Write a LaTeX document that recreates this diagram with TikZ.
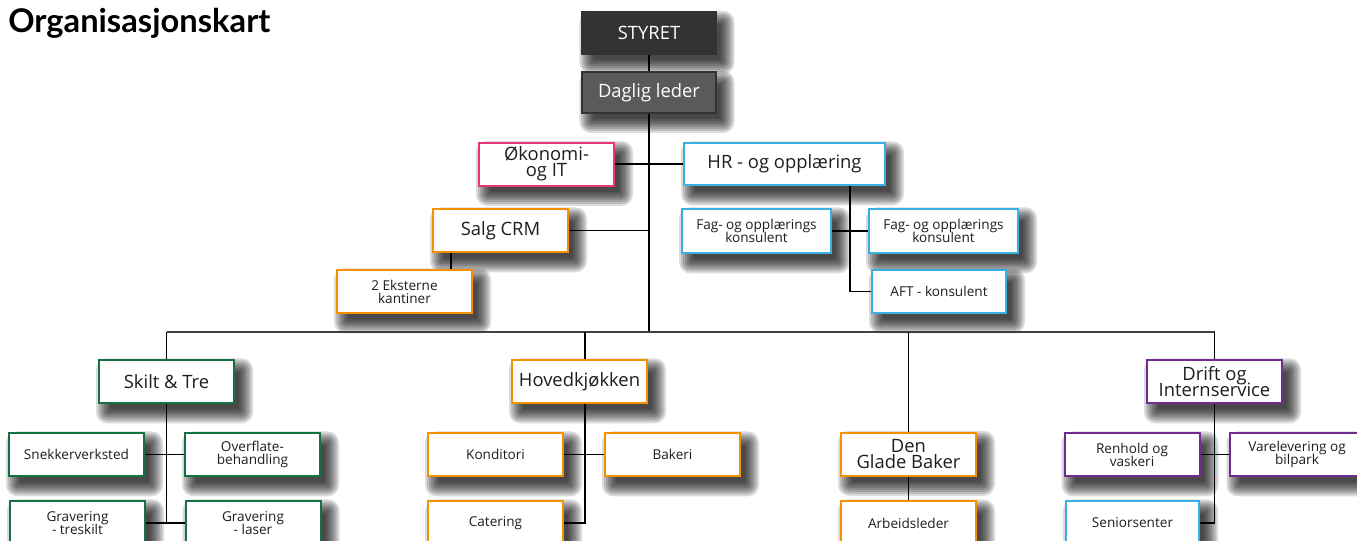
\documentclass[tikz,border=0pt]{standalone}
\usepackage{fontspec}
\setmainfont{Open Sans}
\newfontfamily\titlefont{Lato}
\usetikzlibrary{backgrounds}
\definecolor{cpink}{HTML}{E2357A}
\definecolor{ccyan}{HTML}{3BAEE3}
\definecolor{corange}{HTML}{F39200}
\definecolor{cgreen}{HTML}{17703F}
\definecolor{cpurple}{HTML}{712C8E}
\definecolor{cdark}{HTML}{333333}
\definecolor{cmid}{HTML}{5A5A5A}
\definecolor{ctext}{HTML}{1E1E1E}
\newcommand\tightskip{\lineskiplimit=-20pt\relax\lineskip=0pt\relax}
\tikzset{
  boxbase/.style={rectangle, draw, line width=1.5pt, fill=white, text=ctext,
    align=center, inner sep=0pt, minimum width=101.25pt, minimum height=32.25pt,
    execute at begin node=\tightskip},
  bigtxt/.style={font=\fontsize{13.8}{12.3}\selectfont},
  smalltxt/.style={font=\fontsize{10.2}{9.8}\selectfont},
  topbox/.style={boxbase, bigtxt, fill=#1, draw=black!80, text=white, line width=0.8pt},
  pinkbox/.style={boxbase, draw=cpink},
  cyanbox/.style={boxbase, draw=ccyan},
  orangebox/.style={boxbase, draw=corange},
  greenbox/.style={boxbase, draw=cgreen},
  purplebox/.style={boxbase, draw=cpurple},
  conn/.style={line width=1.1pt, black},
  busline/.style={line width=1.5pt, black!75},
  shadowlayer/.style={fill=black, fill opacity=0.14}
}
\begin{document}
\begin{tikzpicture}[x=0.75pt,y=-0.75pt]
\clip (0,0) rectangle (1357,540);
\node[anchor=base west, inner sep=0pt, font=\titlefont\bfseries\fontsize{24.5}{24.5}\selectfont] (title) at (8,32) {Organisasjonskart};
% top
\node[topbox=cdark, minimum width=100.5pt, minimum height=31.5pt] (styret) at (649,33) {STYRET};
\node[topbox=cmid, minimum width=100.5pt, minimum height=30.75pt] (daglig) at (649,92.5) {Daglig leder};
\node[pinkbox, bigtxt] (okonomi) at (546.5,164) {Økonomi-\\og IT};
\node[cyanbox, bigtxt, minimum width=150.75pt, minimum height=31.5pt] (hr) at (784.5,164) {HR - og opplæring};
\node[orangebox, bigtxt] (salg) at (500.5,230.5) {Salg CRM};
\node[orangebox, smalltxt] (ekst) at (404.5,291.5) {2 Eksterne\\kantiner};
\node[cyanbox, smalltxt, minimum width=111.75pt, minimum height=33pt] (fagl) at (756.5,231) {Fag- og opplærings\\konsulent};
\node[cyanbox, smalltxt, minimum width=111.75pt, minimum height=33pt] (fagr) at (943.5,231) {Fag- og opplærings\\konsulent};
\node[cyanbox, smalltxt, minimum width=100.5pt] (aft) at (939,291.5) {AFT - konsulent};
% departments
\node[greenbox, bigtxt] (skilt) at (166.5,381.5) {Skilt \& Tre};
\node[orangebox, bigtxt] (hoved) at (579.5,381.5) {Hovedkjøkken};
\node[orangebox, bigtxt] (den) at (908.5,454) {Den\\Glade Baker};
\node[purplebox, bigtxt] (drift) at (1214.5,381.5) {Drift og\\Internservice};
% sub units
\node[greenbox, smalltxt] (snekker) at (76.5,454.5) {Snekkerverksted};
\node[greenbox, smalltxt] (overflate) at (252.5,454.5) {Overflate-\\behandling};
\node[greenbox, smalltxt, minimum height=33pt] (gravt) at (77.5,523) {Gravering\\- treskilt};
\node[greenbox, smalltxt, minimum height=33pt] (gravl) at (253,523) {Gravering\\- laser};
\node[orangebox, smalltxt] (konditori) at (495.5,454.5) {Konditori};
\node[orangebox, smalltxt] (bakeri) at (672.5,454.5) {Bakeri};
\node[orangebox, smalltxt, minimum height=33pt] (catering) at (495.5,523) {Catering};
\node[orangebox, smalltxt, minimum height=33pt] (arbeid) at (908.5,523) {Arbeidsleder};
\node[purplebox, smalltxt] (renhold) at (1132,454.5) {Renhold og\\vaskeri};
\node[purplebox, smalltxt] (vare) at (1297,454.5) {Varelevering og\\bilpark};
\node[cyanbox, smalltxt, minimum width=100pt, minimum height=33pt] (senior) at (1132.5,523) {Seniorsenter};
% soft drop shadows behind the boxes
\begin{pgfonlayer}{background}
\fill[white] (0,0) rectangle (1357,540);
\foreach \n in {styret,daglig,okonomi,hr,salg,ekst,fagl,fagr,aft,skilt,hoved,den,drift,snekker,overflate,gravt,gravl,konditori,bakeri,catering,arbeid,renhold,vare,senior}{
  \foreach \k in {0,...,7}{
    \pgfmathsetmacro\e{1.5*\k-3}
    \pgfmathsetmacro\lx{6-\e}
    \pgfmathsetmacro\ly{-7-\e}
    \pgfmathsetmacro\ux{6+\e}
    \pgfmathsetmacro\uy{-7+\e}
    \pgfmathsetmacro\rc{max(\e,0)+1}
    \fill[shadowlayer, rounded corners=\rc pt] ([shift={(\lx pt,\ly pt)}]\n.south west) rectangle ([shift={(\ux pt,\uy pt)}]\n.north east);
  }
}
\end{pgfonlayer}
% connectors
\coordinate (bus) at (648,332);
\draw[conn] (styret.south) -- (daglig.north);
\draw[conn] (daglig.south) -- (daglig.south |- bus);
\draw[conn] (okonomi.east) -- (hr.west);
\draw[conn] (salg.east) -- (salg.east -| daglig.south);
\draw[conn] ([xshift=14.25pt]salg.south west) -- ([xshift=14.25pt]salg.south west |- ekst.north);
\draw[conn] ([xshift=-27pt]hr.south east) |- (aft.west);
\draw[conn] (fagl.east) -- (fagr.west);
\draw[busline] (skilt.north |- bus) -- (drift.north |- bus);
\draw[conn] (skilt.north |- bus) -- (skilt.north);
\draw[conn] ([xshift=4pt]hoved.north |- bus) -- ([xshift=4pt]hoved.north);
\draw[conn] (den.north |- bus) -- (den.north);
\draw[conn] (drift.north |- bus) -- (drift.north);
\draw[conn] (skilt.south) -- (skilt.south |- gravt.east);
\draw[conn] (snekker.east) -- (overflate.west);
\draw[conn] (gravt.east) -- (gravl.west);
\draw[conn] ([xshift=4pt]hoved.south) |- (catering.east);
\draw[conn] (konditori.east) -- (bakeri.west);
\draw[conn] (den.south) -- (arbeid.north);
\draw[conn] (drift.south) |- (senior.east);
\draw[conn] (renhold.east) -- (vare.west);
\end{tikzpicture}
\end{document}
